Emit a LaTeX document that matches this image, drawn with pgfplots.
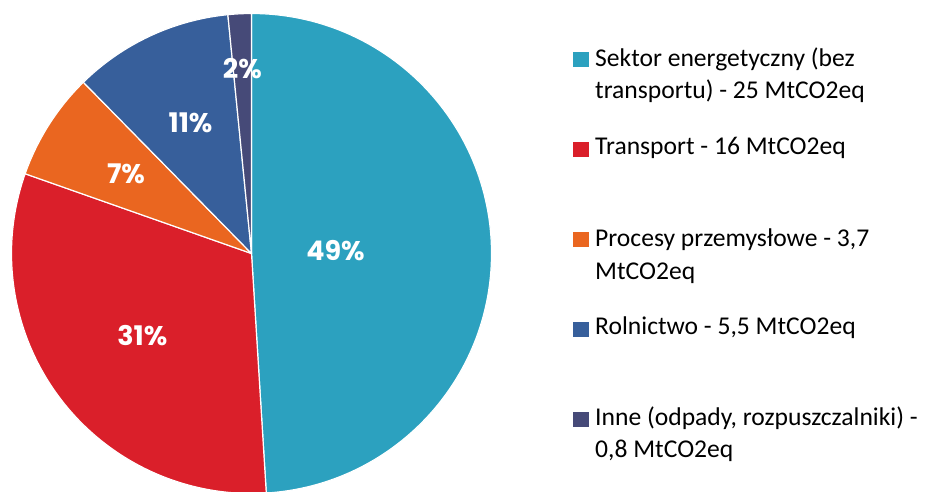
\documentclass[border=0pt]{standalone}
\usepackage{fontspec}
\setmainfont{Carlito}
\newfontfamily\pctfont{Poppins}
\usepackage{pgfplots}
\usepackage{pgfplotstable}
\pgfplotsset{compat=1.18}
\definecolor{slicecol0}{HTML}{2CA1BF}
\definecolor{slicecol1}{HTML}{DA1F2A}
\definecolor{slicecol2}{HTML}{EA6620}
\definecolor{slicecol3}{HTML}{375F9B}
\definecolor{slicecol4}{HTML}{464A78}
% values in MtCO2eq, label radius (fraction of pie radius)
\pgfplotstableread[col sep=comma]{
value,labelr
25,0.35
16,0.57
3.7,0.62
5.5,0.60
0.8,0.77
}\piedata
\def\total{0}%
\pgfplotsforeachungrouped \i in {0,...,4}{%
  \pgfplotstablegetelem{\i}{value}\of\piedata
  \pgfmathsetmacro\total{\total+\pgfplotsretval}%
}%
\def\cum{0}%
\pgfplotsforeachungrouped \i in {0,...,4}{%
  \pgfplotstablegetelem{\i}{value}\of\piedata
  \let\v\pgfplotsretval
  \pgfmathsetmacro\sa{90-360*(\cum/\total)}%
  \pgfmathsetmacro\cum{\cum+\v}%
  \pgfmathsetmacro\ea{90-360*(\cum/\total)}%
  \pgfmathsetmacro\ma{(\sa+\ea)/2}%
  \pgfmathtruncatemacro\pc{round(100*(\v/\total))}%
  \pgfplotstablegetelem{\i}{labelr}\of\piedata
  \let\lr\pgfplotsretval
  \expandafter\xdef\csname sa\i\endcsname{\sa}%
  \expandafter\xdef\csname ea\i\endcsname{\ea}%
  \expandafter\xdef\csname ma\i\endcsname{\ma}%
  \expandafter\xdef\csname pc\i\endcsname{\pc}%
  \expandafter\xdef\csname lr\i\endcsname{\lr}%
}%
\begin{document}
\begin{tikzpicture}
\useasboundingbox (0,0) rectangle (936pt,491pt);
\begin{axis}[at={(251.5pt,237.5pt)}, anchor=origin, x=240pt, y=240pt,
  xmin=-1, xmax=1, ymin=-1, ymax=1, hide axis, clip=false]
\pgfplotsinvokeforeach{0,...,4}{%
  \edef\tmp{\noexpand\fill[fill=slicecol#1, draw=white, line width=1.2pt, line join=round]
    (axis cs:0,0) -- (axis cs:{cos(\csname sa#1\endcsname)},{sin(\csname sa#1\endcsname)})
    arc[start angle=\csname sa#1\endcsname, end angle=\csname ea#1\endcsname, radius=240pt] -- cycle;}%
  \tmp
}
\pgfplotsinvokeforeach{0,...,4}{%
  \edef\tmp{\noexpand\node[text=white, inner sep=0pt, font=\noexpand\pctfont\noexpand\bfseries\noexpand\fontsize{27}{27}\noexpand\selectfont]
    at (axis cs:{\csname lr#1\endcsname*cos(\csname ma#1\endcsname)},{\csname lr#1\endcsname*sin(\csname ma#1\endcsname)})
    {\csname pc#1\endcsname\noexpand\%};}%
  \tmp
}
\end{axis}
% legend
\begin{scope}[every node/.style={anchor=base west, inner sep=0pt, font=\fontsize{25.6}{31}\selectfont}]
\fill[slicecol0] (573pt,424pt) rectangle ++(15.5pt,15pt);
\node at (595pt,424pt) {Sektor energetyczny (bez};
\node at (595pt,392pt) {transportu) - 25 MtCO2eq};
\fill[slicecol1] (573pt,334pt) rectangle ++(15.5pt,15pt);
\node at (595pt,337pt) {Transport - 16 MtCO2eq};
\fill[slicecol2] (573pt,244pt) rectangle ++(15.5pt,15pt);
\node at (595pt,245pt) {Procesy przemysłowe - 3,7};
\node at (595pt,212pt) {MtCO2eq};
\fill[slicecol3] (573pt,154pt) rectangle ++(15.5pt,15pt);
\node at (595pt,157pt) {Rolnictwo - 5,5 MtCO2eq};
\fill[slicecol4] (573pt,64pt) rectangle ++(15.5pt,15pt);
\node at (595pt,66pt) {Inne (odpady, rozpuszczalniki) -};
\node at (595pt,34pt) {0,8 MtCO2eq};
\end{scope}
\end{tikzpicture}
\end{document}
